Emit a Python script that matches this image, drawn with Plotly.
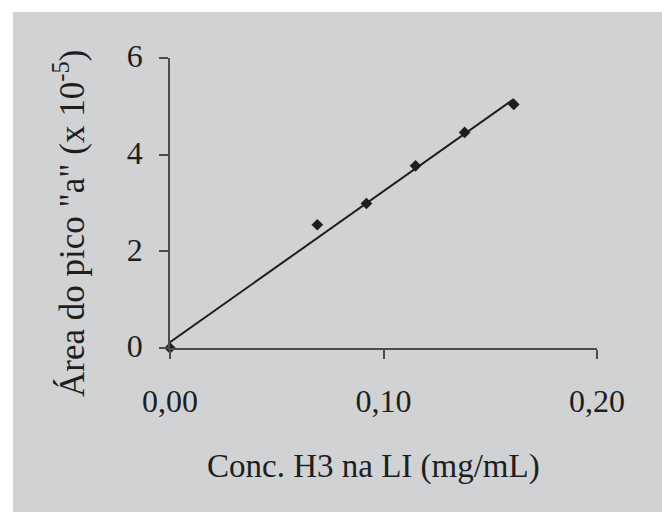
import plotly.graph_objects as go

# Data
conc = [0.0, 0.069, 0.092, 0.115, 0.138, 0.161]
area = [0.0, 2.55, 2.99, 3.77, 4.46, 5.04]
fit_x = [0.0, 0.161]
fit_y = [0.12, 5.15]

x_tickvals = [0.0, 0.1, 0.2]
x_ticktext = ["0,00", "0,10", "0,20"]
y_tickvals = [0, 2, 4, 6]
y_ticktext = ["0", "2", "4", "6"]

x_title = "Conc. H3 na LI (mg/mL)"
y_title = 'Área do pico "a" (x 10<sup>-5</sup>)'

W, H = 662, 512
L, R, T, B = 170, 65, 58, 164
pw = W - L - R
ph = H - T - B

def px(x):
    return (x - L) / pw

def py(y):
    return (H - B - y) / ph

FONT = "Liberation Serif, Times New Roman, serif"
INK = "#1e1e1e"
AXC = "#4d4d4d"
BG = "#d1d2d4"

fig = go.Figure()
fig.add_trace(go.Scatter(x=fit_x, y=fit_y, mode="lines",
                         line=dict(color=INK, width=2), hoverinfo="skip",
                         showlegend=False))
fig.add_trace(go.Scatter(x=conc, y=area, mode="markers",
                         marker=dict(symbol="diamond", size=9, color=INK),
                         cliponaxis=False, showlegend=False))

fig.update_layout(
    width=W, height=H,
    margin=dict(l=L, r=R, t=T, b=B),
    paper_bgcolor="white",
    plot_bgcolor="rgba(0,0,0,0)",
    font=dict(family=FONT, size=32, color=INK),
    xaxis=dict(range=[0, 0.2], tickvals=x_tickvals, ticktext=x_ticktext,
               showline=True, linecolor=AXC, linewidth=1.5,
               ticks="outside", ticklen=9, tickcolor=AXC, tickwidth=1.5,
               showgrid=False, zeroline=False, ticklabelstandoff=15,
               tickfont=dict(family=FONT, size=32, color=INK)),
    yaxis=dict(range=[0, 6], tickvals=y_tickvals, ticktext=y_ticktext,
               showline=True, linecolor=AXC, linewidth=1.5,
               ticks="outside", ticklen=9, tickcolor=AXC, tickwidth=1.5,
               showgrid=False, zeroline=False, ticklabelstandoff=10,
               ticklabelshift=-2,
               tickfont=dict(family=FONT, size=32, color=INK)),
    shapes=[dict(type="rect", xref="paper", yref="paper", layer="below",
                 x0=px(13), x1=px(662), y0=py(512), y1=py(12),
                 fillcolor=BG, line=dict(width=0))],
    annotations=[
        dict(text=x_title, xref="paper", yref="paper", x=px(373), y=py(466),
             xanchor="center", yanchor="middle", showarrow=False,
             font=dict(family=FONT, size=33, color=INK)),
        dict(text=y_title, xref="paper", yref="paper", x=px(69), y=py(224),
             xanchor="center", yanchor="middle", showarrow=False, textangle=-90,
             font=dict(family=FONT, size=35, color=INK)),
    ],
)

fig.write_html("out.html")
